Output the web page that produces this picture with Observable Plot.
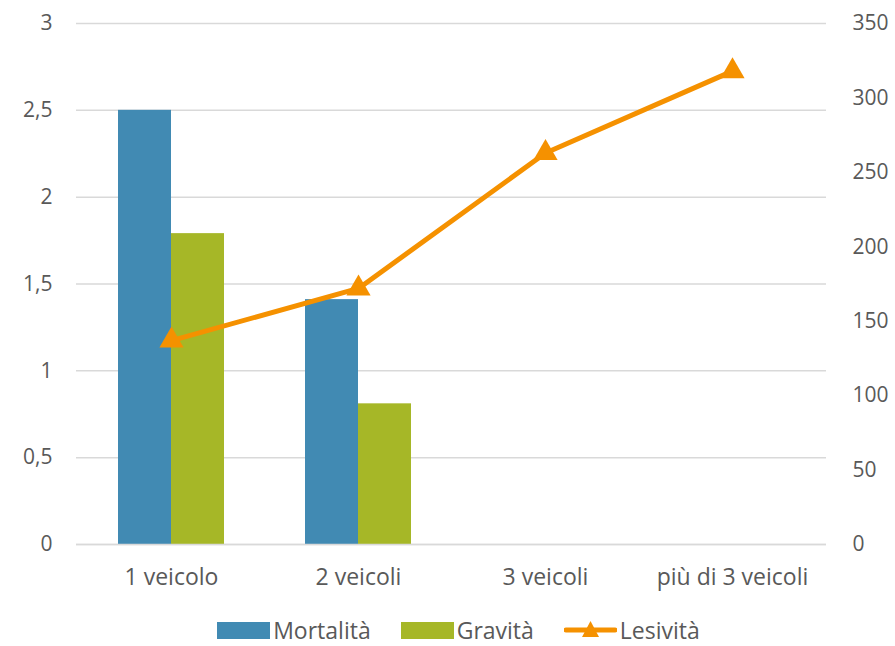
<!DOCTYPE html>
<html>
<head>
<meta charset="utf-8">
<script src="https://cdn.jsdelivr.net/npm/d3@7"></script>
<script src="https://cdn.jsdelivr.net/npm/@observablehq/plot@0.6"></script>
<style>
  html, body { margin: 0; padding: 0; background: #fff; }
  body { width: 895px; height: 646px; overflow: hidden; font-family: "Open Sans", sans-serif; }
  #chart svg { display: block; }
  #legend { display: flex; justify-content: center; align-items: center; gap: 30px; margin-top: 20px; padding-left: 22px; font-size: 23px; color: #595959; line-height: 24px; height: 24px; }
  .item { display: flex; align-items: center; gap: 3px; }
  .sw { width: 53px; height: 17px; display: inline-block; }
</style>
</head>
<body>
<div id="chart"></div>
<div id="legend"></div>
<script>
const categories = ["1 veicolo", "2 veicoli", "3 veicoli", "più di 3 veicoli"];
const mortalita = [2.5, 1.41, null, null];
const gravita = [1.79, 0.81, null, null];
const lesivita = [137, 172, 263, 318];
const leftTicks = [0, 0.5, 1, 1.5, 2, 2.5, 3];
const rightTicks = [0, 50, 100, 150, 200, 250, 300, 350];
const leftMax = 3, rightMax = 350;

const colors = { Mortalità: "#418AB3", Gravità: "#A6B727", Lesività: "#F59100" };

const toLeft = v => v * leftMax / rightMax;
const fmt = v => String(v).replace(".", ",");

const barsM = categories.map((c, i) => ({ cat: c, v: mortalita[i] })).filter(d => d.v != null);
const barsG = categories.map((c, i) => ({ cat: c, v: gravita[i] })).filter(d => d.v != null);
const lineData = categories.map((c, i) => ({ cat: c, v: toLeft(lesivita[i]) }));

const chart = Plot.plot({
  width: 895,
  height: 598,
  marginTop: 23,
  marginBottom: 54,
  marginLeft: 76,
  marginRight: 69,
  style: { fontFamily: "Open Sans, sans-serif", fontSize: "21px", color: "#595959" },
  x: { domain: categories, paddingInner: 0.435, paddingOuter: 0.2175, label: null },
  y: { domain: [0, leftMax], label: null },
  marks: [
    Plot.gridY(leftTicks, { stroke: "#d9d9d9", strokeOpacity: 1, strokeWidth: 1.5 }),
    Plot.axisY(leftTicks, { anchor: "left", tickSize: 0, tickPadding: 24, tickFormat: fmt, label: null, fill: "#595959", fontSize: 21 }),
    Plot.axisY(rightTicks.map(toLeft), { anchor: "right", tickSize: 0, tickPadding: 26, textAnchor: "start", tickFormat: v => String(Math.round(v * rightMax / leftMax)), label: null, fill: "#595959", fontSize: 21 }),
    Plot.axisX({ tickSize: 0, tickPadding: 24, label: null, fill: "#595959", fontSize: 23 }),
    Plot.barY(barsM, { x: "cat", y: "v", fill: colors["Mortalità"], insetRight: 53 }),
    Plot.barY(barsG, { x: "cat", y: "v", fill: colors["Gravità"], insetLeft: 53 }),
    Plot.ruleY([0], { stroke: "#d9d9d9", strokeWidth: 1.5 }),
    Plot.line(lineData, { x: "cat", y: "v", stroke: colors["Lesività"], strokeWidth: 5 }),
    Plot.dot(lineData, { x: "cat", y: "v", symbol: "triangle", r: 9, fill: colors["Lesività"], stroke: "none" })
  ]
});
document.getElementById("chart").appendChild(chart);

const legend = document.getElementById("legend");
[["Mortalità", "bar"], ["Gravità", "bar"], ["Lesività", "line"]].forEach(([name, kind]) => {
  const item = document.createElement("div");
  item.className = "item";
  if (kind === "bar") {
    item.innerHTML = `<span class="sw" style="background:${colors[name]}"></span><span>${name}</span>`;
  } else {
    item.innerHTML = `<svg width="53" height="22"><line x1="2" x2="51" y1="11" y2="11" stroke="${colors[name]}" stroke-width="5" stroke-linecap="round"/><path d="M26.5,2 L35,18 L18,18 Z" fill="${colors[name]}"/></svg><span>${name}</span>`;
  }
  legend.appendChild(item);
});
</script>
</body>
</html>
